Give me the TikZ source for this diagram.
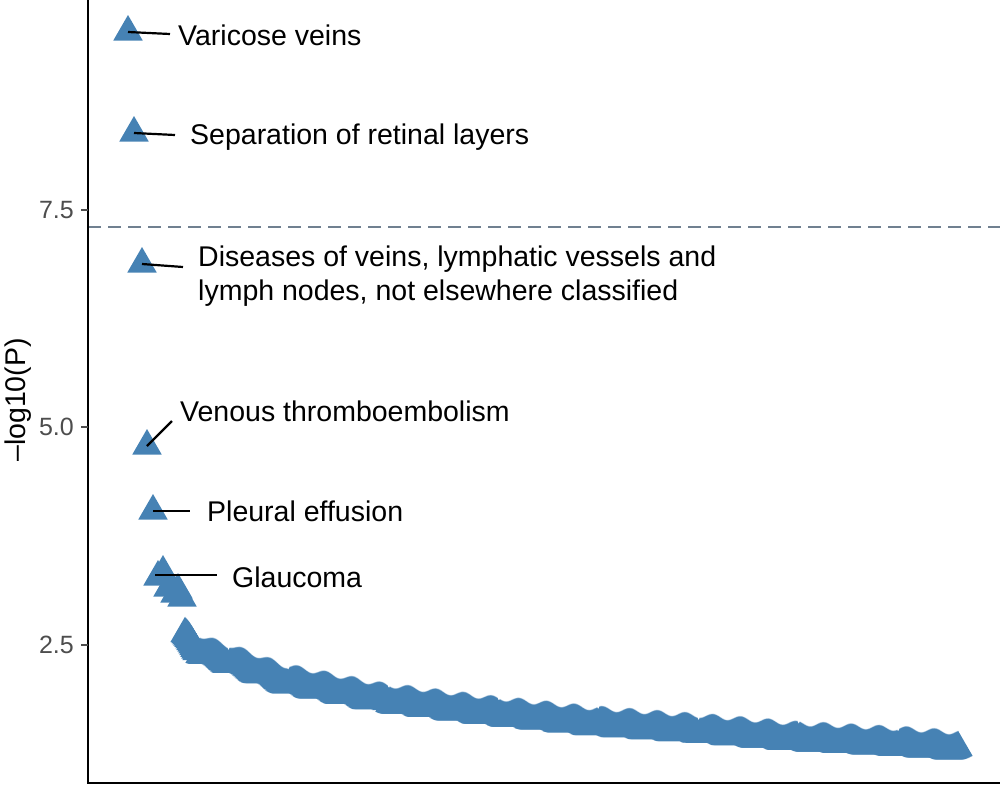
\documentclass[tikz,border=0pt]{standalone}
\usepackage{fontspec}
\setmainfont{Liberation Sans}
\usetikzlibrary{shapes.geometric}
\definecolor{steel}{HTML}{4682B4}
\definecolor{slate}{HTML}{708090}
\definecolor{tickgrey}{HTML}{4D4D4D}
\tikzset{
  pt/.style={regular polygon,regular polygon sides=3,minimum size=34pt,inner sep=0pt,fill=steel,draw=none},
  lab/.style={font=\fontsize{28.5}{34}\selectfont,anchor=west,inner sep=0pt,align=left},
  tl/.style={font=\fontsize{25}{30}\selectfont,text=tickgrey,anchor=east,inner sep=0pt},
  seg/.style={line width=2.2pt,black}
}
\newcommand{\myseg}[4]{%
  \foreach \xx in {#1,...,#3}{%
    \pgfmathsetmacro{\yy}{#2+(#4-#2)*(\xx-#1)/(#3-#1)+2.5*sin(\xx*13)}
    \node[pt] at (\xx,\yy) {};}}
\begin{document}
\begin{tikzpicture}[x=1pt,y=-1pt]
\useasboundingbox (0,0) rectangle (1000,787);
% dashed threshold
\draw[slate,line width=2pt,dash pattern=on 13pt off 7pt] (88,227) -- (1000,227);
% dense points
\myseg{185}{636}{197}{650}
\myseg{200}{652}{227}{662}
\myseg{230}{662}{287}{683}
\myseg{290}{683}{387}{702}
\myseg{390}{702}{497}{715}
\myseg{500}{715}{597}{725}
\myseg{600}{725}{697}{732}
\myseg{700}{732}{797}{740}
\myseg{800}{740}{897}{745}
\myseg{900}{745}{958}{749}
% glaucoma cluster
\foreach \px/\py in {158/577,163/572,168/588,175/594,182/598,178/590}{\node[pt] at (\px,\py) {};}
% top points
\node[pt] (p1) at (128,32) {};
\node[pt] (p2) at (134,133) {};
\node[pt] (p3) at (142,264) {};
\node[pt] (p4) at (147,446) {};
\node[pt] (p5) at (153,511) {};
\coordinate (p6) at (155,575);
% labels
\node[lab] (l1) at (178,35) {Varicose veins};
\node[lab] (l2) at (190,137) {Separation of retinal layers};
\node[lab] (l3) at (198,276) {Diseases of veins, lymphatic vessels and\\lymph nodes, not elsewhere classified};
\node[lab] (l4) at (180,411) {Venous thromboembolism};
\node[lab] (l5) at (207,511) {Pleural effusion};
\node[lab] (l6) at (232,577) {Glaucoma};
\draw[seg] (p1.center) -- (170,34);
\draw[seg] (p2.center) -- (175,135);
\draw[seg] (p3.center) -- (183,267);
\draw[seg] (p4.center) -- (172,421);
\draw[seg] (p5.center) -- (190,511);
\draw[seg] (p6) -- (217,575);
% axes
\draw[black,line width=2.6pt] (88,0) -- (88,783) -- (1000,783);
\foreach \v/\t in {645/2.5,427/5.0,210/7.5}{
  \draw[tickgrey,line width=2pt] (81,\v) -- (88,\v);
  \node[tl] at (74,\v) {\t};}
\node[font=\fontsize{28.5}{34}\selectfont,rotate=90,inner sep=0pt] (ylab) at (18,400) {\textendash log10(P)};
\end{tikzpicture}
\end{document}
